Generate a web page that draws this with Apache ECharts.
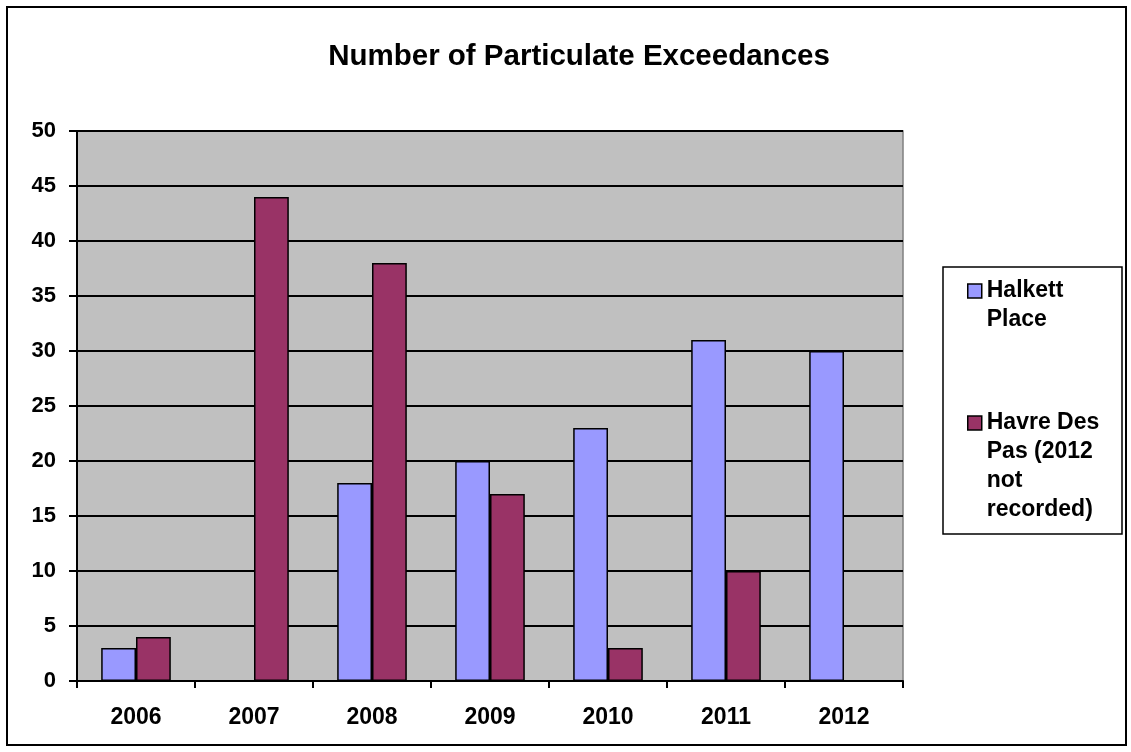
<!DOCTYPE html>
<html>
<head>
<meta charset="utf-8">
<script src="https://cdn.jsdelivr.net/npm/echarts@6/dist/echarts.min.js"></script>
<style>
html,body{margin:0;padding:0;background:#fff;}
#chart{width:1131px;height:752px;}
</style>
</head>
<body>
<div id="chart"></div>
<script>
const categories = ['2006', '2007', '2008', '2009', '2010', '2011', '2012'];
const halkettPlace = [3, null, 18, 20, 23, 31, 30];
const havreDesPas = [4, 44, 38, 17, 3, 10, null];
const seriesNames = ['Halkett Place', 'Havre Des Pas (2012 not recorded)'];
const legendLabels = ['Halkett\nPlace', 'Havre Des\nPas (2012\nnot\nrecorded)'];
const yTicks = { min: 0, max: 50, interval: 5 };

const FONT = "'Liberation Sans', Arial, sans-serif";
const LH = 29;
const chart = echarts.init(document.getElementById('chart'));

function legendFor(i, iconCenterY) {
  const lines = legendLabels[i].split('\n').length;
  const totalLines = 2 * lines - 1;
  return {
    show: true,
    orient: 'vertical',
    left: 967,
    top: iconCenterY - totalLines * LH / 2,
    padding: 0,
    icon: 'rect',
    itemWidth: 14,
    itemHeight: 14,
    itemStyle: { borderColor: '#000', borderWidth: 1.5 },
    selectedMode: false,
    data: [seriesNames[i]],
    formatter: function (name) {
      const lbl = legendLabels[seriesNames.indexOf(name)];
      const n = lbl.split('\n').length;
      return ' \n'.repeat(n - 1) + lbl;
    },
    textStyle: { fontFamily: FONT, fontSize: 23, fontWeight: 'bold', color: '#000', lineHeight: LH }
  };
}

const option = {
  backgroundColor: '#fff',
  animation: false,
  title: {
    text: 'Number of Particulate Exceedances',
    left: 574,
    textAlign: 'center',
    top: 37,
    textStyle: { fontFamily: FONT, fontSize: 29.5, fontWeight: 'bold', color: '#000' }
  },
  graphic: [
    { type: 'rect', shape: { x: 7, y: 7, width: 1119, height: 738 }, style: { fill: 'none', stroke: '#000', lineWidth: 2 }, z: -10 },
    { type: 'rect', shape: { x: 943, y: 267, width: 179, height: 267 }, style: { fill: '#fff', stroke: '#000', lineWidth: 1.5 }, z: -5 }
  ],
  legend: [legendFor(0, 291), legendFor(1, 423)],
  grid: {
    left: 77, right: 228, top: 131, bottom: 71,
    show: true, backgroundColor: '#c0c0c0', borderColor: '#808080', borderWidth: 1.5
  },
  xAxis: {
    type: 'category',
    data: categories,
    axisLine: { lineStyle: { color: '#000', width: 2 } },
    axisTick: { show: true, length: 7, lineStyle: { color: '#000', width: 2 } },
    axisLabel: { margin: 25, fontFamily: FONT, fontSize: 23, fontWeight: 'bold', color: '#000' },
    splitLine: { show: false }
  },
  yAxis: {
    type: 'value',
    min: yTicks.min, max: yTicks.max, interval: yTicks.interval,
    axisLine: { show: true, lineStyle: { color: '#000', width: 2 } },
    axisTick: { show: true, length: 8, lineStyle: { color: '#000', width: 2 } },
    axisLabel: { margin: 21, fontFamily: FONT, fontSize: 22, fontWeight: 'bold', color: '#000' },
    splitLine: { show: true, lineStyle: { color: '#000', width: 2 } }
  },
  series: [
    {
      name: seriesNames[0], type: 'bar', data: halkettPlace,
      barGap: '0%', barCategoryGap: '41%',
      itemStyle: { color: '#9999ff', borderColor: '#000', borderWidth: 1.5 }
    },
    {
      name: seriesNames[1], type: 'bar', data: havreDesPas,
      barGap: '0%', barCategoryGap: '41%',
      itemStyle: { color: '#993366', borderColor: '#000', borderWidth: 1.5 }
    }
  ]
};
chart.setOption(option);
</script>
</body>
</html>
